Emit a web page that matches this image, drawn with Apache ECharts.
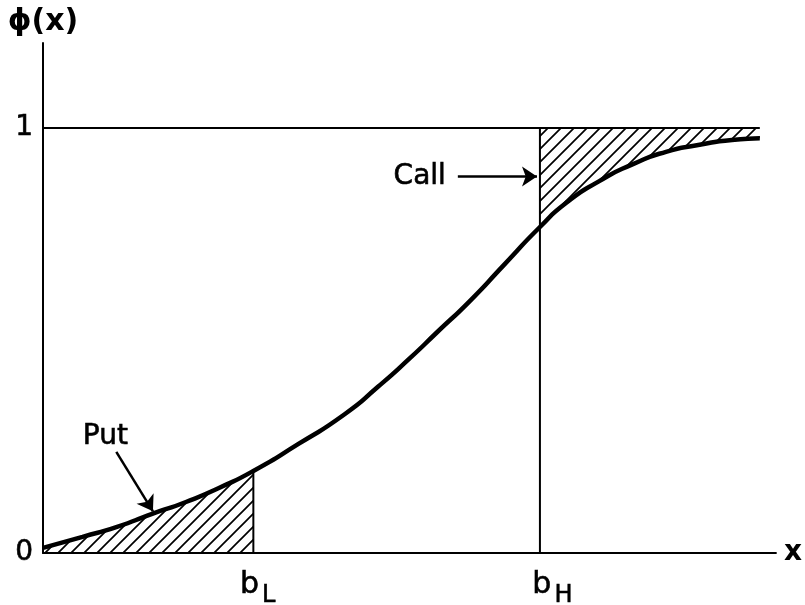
<!DOCTYPE html>
<html>
<head>
<meta charset="utf-8">
<script src="https://cdn.jsdelivr.net/npm/echarts@6/dist/echarts.min.js"></script>
<style>
    html, body { margin: 0; padding: 0; background: #fff; }
    #chart { width: 805px; height: 605px; }
</style>
</head>
<body>
<div id="chart"></div>
<script>
    // phi(x) curve
    var curveX = [0, 5.4, 10, 14.9, 19.5, 24, 28.7, 34.8, 41.2, 45.7, 50.1, 53.8, 58.3, 62.9, 67.8, 71.4, 75.9, 80.5, 85, 89.4, 94, 97.8];
    var curveY = [0.012, 0.038, 0.061, 0.092, 0.12, 0.153, 0.193, 0.256, 0.327, 0.391, 0.459, 0.52, 0.594, 0.678, 0.767, 0.824, 0.875, 0.915, 0.944, 0.96, 0.972, 0.976];
    var bL = 28.7;
    var bH = 67.8;
    var xEnd = 97.8;
    var yTickLabels = ['0', '1'];

    // annotations
    var noteNames = ['Put', 'Call'];
    var noteX = [8.5, 51.4];
    var noteY = [0.274, 0.886];
    var putArrow = [[10.0, 0.238], [15.0, 0.098]];
    var callArrow = [[56.6, 0.886], [67.4, 0.886]];
    var boundNames = ['{b|b}{s|L}', '{b|b}{s|H}'];
    var boundX = [29.3, 69.5];
    var boundY = [-0.075, -0.075];

    var font = 'DejaVu Sans';

    function hatch () {
        var s = 13;
        var c = document.createElement('canvas');
        c.width = s; c.height = s;
        var g = c.getContext('2d');
        g.strokeStyle = '#000';
        g.lineWidth = 1.7;
        g.beginPath();
        g.moveTo(-2, s + 2); g.lineTo(s + 2, -2);
        g.moveTo(-2, 2); g.lineTo(2, -2);
        g.moveTo(s - 2, s + 2); g.lineTo(s + 2, s - 2);
        g.stroke();
        return { image: c, repeat: 'repeat' };
    }

    var pts = curveX.map(function (x, i) { return [x, curveY[i]]; });
    var putPts = pts.filter(function (p) { return p[0] <= bL; });
    var callPts = pts.filter(function (p) { return p[0] >= bH; });

    var chart = echarts.init(document.getElementById('chart'));
    var option = {
        animation: false,
        grid: { left: 43, right: 24, top: 43, bottom: 52 },
        xAxis: {
            type: 'value', min: 0, max: 100,
            name: 'x', nameGap: 8,
            nameTextStyle: { fontSize: 28, color: '#000', fontFamily: font, fontWeight: 'bold', verticalAlign: 'middle' },
            axisLine: { lineStyle: { color: '#000', width: 2 } },
            axisTick: { show: false }, axisLabel: { show: false }, splitLine: { show: false }
        },
        yAxis: {
            type: 'value', min: 0, max: 1.2, interval: 1,
            name: 'ϕ(x)', nameGap: 6,
            nameTextStyle: { fontSize: 30, color: '#000', fontFamily: font, fontWeight: 'bold' },
            axisLine: { show: true, lineStyle: { color: '#000', width: 2 } },
            axisTick: { show: false }, splitLine: { show: false },
            axisLabel: {
                margin: 10, fontSize: 28, color: '#000', fontFamily: font,
                textBorderColor: '#000', textBorderWidth: 0.6,
                formatter: function (v) { return v === 0 || v === 1 ? yTickLabels[v] : ''; }
            }
        },
        series: [
            {
                name: 'put', type: 'line', data: putPts, smooth: 0.65, showSymbol: false,
                lineStyle: { width: 0 }, areaStyle: { color: hatch(), opacity: 1 }, z: 1
            },
            {
                // hatched gap between phi(x) and 1, right of bH
                name: 'call', type: 'custom', data: [[bH, 1]], z: 1, silent: true,
                renderItem: function (params, api) {
                    var poly = [api.coord([bH, 1]), api.coord([xEnd, 1])];
                    for (var i = callPts.length - 1; i >= 0; i--) {
                        poly.push(api.coord(callPts[i]));
                    }
                    return { type: 'polygon', shape: { points: poly }, style: { fill: hatch(), stroke: null } };
                }
            },
            {
                name: 'one', type: 'line', data: [[0, 1], [xEnd, 1]], showSymbol: false,
                lineStyle: { color: '#000', width: 2 }, z: 3,
                markLine: {
                    silent: true, symbol: ['none', 'arrow'], symbolSize: 15,
                    lineStyle: { color: '#000', width: 2.5, type: 'solid' },
                    label: { show: false },
                    data: [
                        [{ coord: putArrow[0] }, { coord: putArrow[1] }],
                        [{ coord: callArrow[0] }, { coord: callArrow[1] }]
                    ]
                }
            },
            {
                name: 'bL', type: 'line', data: [[bL, 0], [bL, curveY[curveX.indexOf(bL)]]], showSymbol: false,
                lineStyle: { color: '#000', width: 2 }, z: 3
            },
            {
                name: 'bH', type: 'line', data: [[bH, 0], [bH, 1]], showSymbol: false,
                lineStyle: { color: '#000', width: 2 }, z: 3
            },
            {
                name: 'curve', type: 'line', data: pts, smooth: 0.65, showSymbol: false,
                lineStyle: { color: '#000', width: 4.5 }, z: 4
            },
            {
                name: 'notes', type: 'scatter', symbolSize: 0, clip: false, silent: true,
                itemStyle: { opacity: 1 },
                data: noteNames.map(function (n, i) { return { name: n, value: [noteX[i], noteY[i]] }; }),
                label: {
                    show: true, position: 'inside', formatter: '{b}', opacity: 1,
                    fontSize: 28, color: '#000', fontFamily: font,
                    textBorderColor: '#000', textBorderWidth: 0.6
                }
            },
            {
                name: 'bounds', type: 'scatter', symbolSize: 0, clip: false, silent: true,
                itemStyle: { opacity: 1 },
                data: boundNames.map(function (n, i) { return { name: n, value: [boundX[i], boundY[i]] }; }),
                label: {
                    show: true, position: 'inside', formatter: '{b}', opacity: 1,
                    rich: {
                        b: { fontSize: 30, color: '#000', fontFamily: font, textBorderColor: '#000', textBorderWidth: 0.6 },
                        s: { fontSize: 24, color: '#000', fontFamily: font, textBorderColor: '#000', textBorderWidth: 0.6, padding: [22, 0, 0, 3] }
                    }
                }
            }
        ]
    };
    chart.setOption(option);
</script>
</body>
</html>
